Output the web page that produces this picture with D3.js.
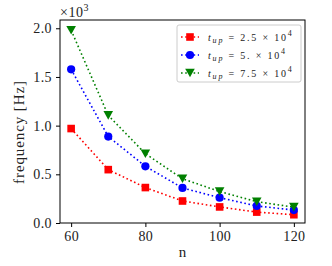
<!DOCTYPE html>
<html>
<head>
<meta charset="utf-8">
<script src="https://cdn.jsdelivr.net/npm/d3@7"></script>
<style>
  html, body { margin: 0; padding: 0; background: #fff; }
  svg { display: block; font-family: "Liberation Serif", "DejaVu Serif", serif; }
</style>
</head>
<body>
<div id="chart"></div>
<script>
// ===== Data =====
const nValues = [60, 70, 80, 90, 100, 110, 120];
const freqA = [0.97, 0.548, 0.364, 0.226, 0.165, 0.112, 0.085];   // t_up = 2.5e4
const freqB = [1.578, 0.888, 0.582, 0.36, 0.26, 0.175, 0.133];    // t_up = 5e4
const freqC = [1.98, 1.105, 0.712, 0.454, 0.323, 0.219, 0.163];   // t_up = 7.5e4
const seriesMantissa = ["2.5", "5.", "7.5"];
const xTicks = [60, 80, 100, 120];
const yTicks = [0, 0.5, 1.0, 1.5, 2.0];

// ===== Config =====
const WIDTH = 332, HEIGHT = 266;
const M = { top: 20, right: 27, bottom: 43, left: 60 };
const w = WIDTH - M.left - M.right;
const h = HEIGHT - M.top - M.bottom;

const series = [
  { vals: freqA, color: "#ff0000", marker: "square", label: seriesMantissa[0] },
  { vals: freqB, color: "#0000ff", marker: "circle", label: seriesMantissa[1] },
  { vals: freqC, color: "#008000", marker: "tri", label: seriesMantissa[2] }
];

const x = d3.scaleLinear().domain([57, 123]).range([0, w]);
const y = d3.scaleLinear().domain([0, 2.085]).range([h, 0]);

const svg = d3.select("#chart").append("svg")
  .attr("width", WIDTH).attr("height", HEIGHT);

const g = svg.append("g").attr("transform", `translate(${M.left},${M.top})`);

// markers
function drawMarker(sel, type, color){
  if (type === "square"){
    sel.append("rect").attr("x", -3.8).attr("y", -3.8).attr("width", 7.6).attr("height", 7.6)
      .attr("fill", color);
  } else if (type === "circle"){
    sel.append("circle").attr("r", 4.1).attr("fill", color);
  } else {
    sel.append("path").attr("d", "M-4.8,-4.3L4.8,-4.3L0,4.3Z").attr("fill", color);
  }
}

const line = d3.line().x((d, i) => x(nValues[i])).y(d => y(d));

series.forEach(s => {
  g.append("path").datum(s.vals)
    .attr("d", line)
    .attr("fill", "none").attr("stroke", s.color)
    .attr("stroke-width", 1.6)
    .attr("stroke-dasharray", "1.6,2.6");
  g.selectAll(null).data(s.vals).join("g")
    .attr("transform", (d, i) => `translate(${x(nValues[i])},${y(d)})`)
    .each(function(){ drawMarker(d3.select(this), s.marker, s.color); });
});

// frame
g.append("rect").attr("width", w).attr("height", h)
  .attr("fill", "none").attr("stroke", "#000").attr("stroke-width", 1);

// axes
const xAxis = g.append("g").attr("transform", `translate(0,${h})`)
  .call(d3.axisBottom(x).tickValues(xTicks).tickFormat(d3.format("d")).tickSize(4).tickPadding(4));
const yAxis = g.append("g")
  .call(d3.axisLeft(y).tickValues(yTicks).tickFormat(d3.format(".1f")).tickSize(4).tickPadding(4));
[xAxis, yAxis].forEach(a => {
  a.select(".domain").remove();
  a.selectAll(".tick line").attr("stroke", "#000").attr("stroke-width", 1);
  a.selectAll(".tick text").attr("font-family", "Liberation Serif, serif")
    .attr("font-size", 14).attr("letter-spacing", 0.4).attr("fill", "#222");
});

// axis labels
svg.append("text").attr("x", M.left + w / 2).attr("y", 257)
  .attr("text-anchor", "middle").attr("font-size", 15).attr("fill", "#222").text("n");
svg.append("text")
  .attr("transform", "translate(24, 132) rotate(-90)")
  .attr("text-anchor", "middle").attr("font-size", 15).attr("letter-spacing", 0.9)
  .attr("fill", "#222")
  .text("frequency [Hz]");

// offset text
const off = svg.append("text").attr("x", 60).attr("y", 17).attr("font-size", 14)
  .attr("letter-spacing", 0.5).attr("fill", "#222");
off.append("tspan").text("\u00d710");
off.append("tspan").attr("font-size", 10).attr("dy", -6).text("3");

// legend
const lg = svg.append("g").attr("transform", "translate(177,25)");
lg.append("rect").attr("width", 124).attr("height", 57).attr("rx", 2)
  .attr("fill", "#fff").attr("fill-opacity", 0.8)
  .attr("stroke", "#ccc").attr("stroke-width", 1);
series.forEach((s, i) => {
  const row = lg.append("g").attr("transform", `translate(0,${12 + i * 18})`);
  row.append("line").attr("x1", 4).attr("x2", 22)
    .attr("stroke", s.color).attr("stroke-width", 1.6).attr("stroke-dasharray", "1.6,2.6");
  drawMarker(row.append("g").attr("transform", "translate(13,0)"), s.marker, s.color);
  const t = row.append("text").attr("x", 31).attr("y", 4).attr("font-size", 10)
    .attr("letter-spacing", 1.8).attr("fill", "#222");
  t.append("tspan").attr("font-style", "italic").text("t");
  t.append("tspan").attr("font-style", "italic").attr("font-size", 8).attr("dy", 2).text("up");
  t.append("tspan").attr("dy", -2).text(` = ${s.label} \u00d7 10`);
  t.append("tspan").attr("font-size", 8).attr("dy", -5).text("4");
});
</script>
</body>
</html>
